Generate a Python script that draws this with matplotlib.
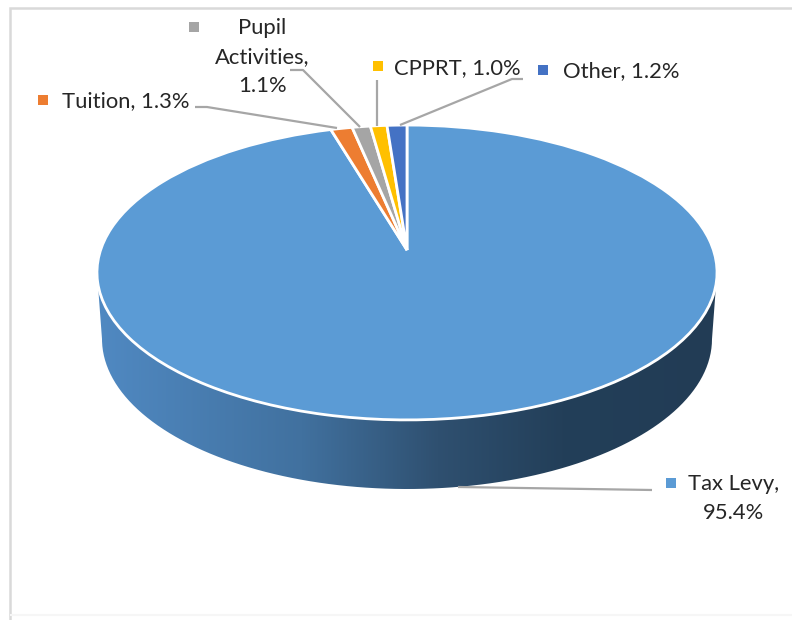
import numpy as np
import matplotlib
matplotlib.use("Agg")
import matplotlib.pyplot as plt
from matplotlib.patches import PathPatch
from matplotlib.path import Path
from matplotlib.transforms import Transform
from matplotlib.colors import LinearSegmentedColormap

plt.rcParams['font.family'] = ['Lato', 'DejaVu Sans']

categories = ["Tax Levy", "Tuition", "Pupil Activities", "CPPRT", "Other"]
values = [95.4, 1.3, 1.1, 1.0, 1.2]
colors = ["#5b9bd5", "#ed7d31", "#a5a5a5", "#ffc000", "#4472c4"]
label_lines = [["Tax Levy,", "95.4%"], ["Tuition, 1.3%"], ["Pupil", "Activities,", "1.1%"],
               ["CPPRT, 1.0%"], ["Other, 1.2%"]]


class Perspective(Transform):
    """Tilted-disc projection of the unit pie to pixel-like data coordinates."""
    input_dims = output_dims = 2
    is_separable = False
    has_inverse = False

    def __init__(self, cx, cy, a, b, k):
        super().__init__()
        self.p = (cx, cy, a, b, k)

    def transform_non_affine(self, xy):
        cx, cy, a, b, k = self.p
        xy = np.asarray(xy, float)
        w = 1 + k * xy[:, 1]
        return np.column_stack([cx + a * xy[:, 0] / w, cy - b * xy[:, 1] / w])


fig = plt.figure(figsize=(7.92, 6.2), dpi=100)
ax = fig.add_axes([0, 0, 1, 1])

# side of the pie: gradient clipped to the lower rim
t = np.linspace(0, np.pi, 200)
low_x = 407 + 305 * np.cos(t)
low_y = 339 + 150 * np.sin(t)
side = Path(np.column_stack([np.r_[717, low_x, 97], np.r_[272, low_y, 272]]))
cmap = LinearSegmentedColormap.from_list("side", [(0, "#5089c2"), (0.33, "#41719f"),
                                                  (0.55, "#2f5070"), (0.75, "#233f59"), (1, "#223c55")])
im = ax.imshow(np.linspace(0, 1, 256)[None, :], extent=(97, 717, 500, 260), cmap=cmap, aspect='auto', zorder=1)
clip = PathPatch(side, transform=ax.transData, fc='none', ec='none')
ax.add_patch(clip)
im.set_clip_path(clip)

wedges, _ = ax.pie(values, colors=colors, startangle=90, counterclock=False,
                   wedgeprops=dict(edgecolor="white", linewidth=2.0, zorder=2))
proj = Perspective(407, 250, 306.4, 144, 0.1525)
for w in wedges:
    w.set_transform(proj + ax.transData)
    w.set_clip_on(False)

ax.set_aspect('auto')
ax.set_xlim(0, 792)
ax.set_ylim(620, 0)
ax.axis('off')

# outer frame: strong top and left, faint bottom
ax.plot([9.5, 9.5, 792], [620, 8, 8], color='#d9d9d9', lw=1.8, zorder=0, solid_joinstyle='miter')
ax.plot([11, 792], [615, 615], color='#f6f6f6', lw=1.5, zorder=0)

# leader lines
leaders = [([458, 652], [487, 490]), ([195, 207, 337], [107, 107, 128]), ([290, 303, 360], [70, 70, 127]),
           ([377, 377], [80, 126]), ([523, 512, 400], [79, 79, 125])]
for lx, ly in leaders:
    ax.plot(lx, ly, color="#a6a6a6", lw=1.6, zorder=3, solid_capstyle='butt')

# data labels
positions = [(734, 484, 29), (126, 101, 0), (262, 28, 29), (457, 68, 0), (621, 71, 0)]
markers = [(671, 483), (43, 100), (194, 27), (378, 66), (543, 70)]
for lines, (x, y, dy), (mx, my), c in zip(label_lines, positions, markers, colors):
    for i, s in enumerate(lines):
        ax.text(x, y + i * dy, s, ha='center', va='center', fontsize=15.8, color="#262626", zorder=4)
    ax.plot([mx], [my], marker='s', ms=6.5, color=c, mew=0, zorder=4)

fig.savefig("out.png", dpi=100)
